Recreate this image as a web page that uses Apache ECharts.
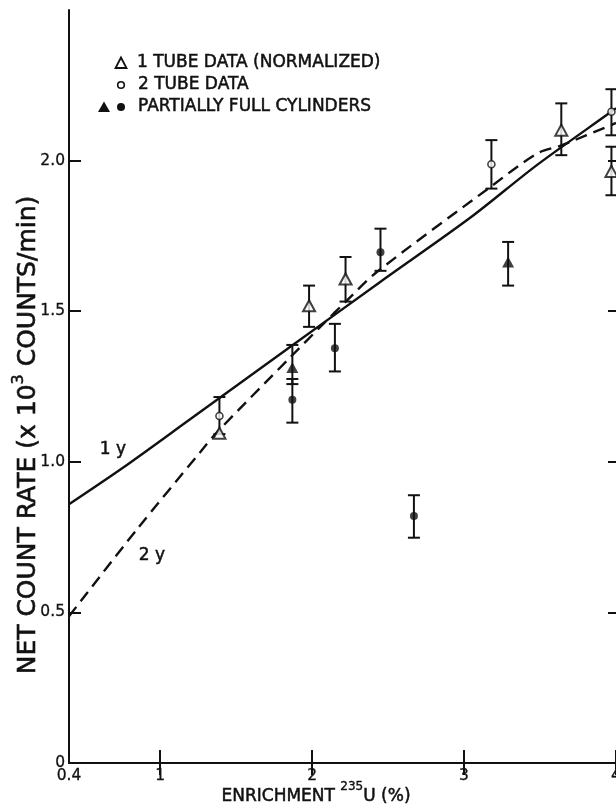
<!DOCTYPE html>
<html>
<head>
<meta charset="utf-8">
<style>html,body{margin:0;padding:0;background:#fff}#c{width:616px;height:810px}</style>
<script src="https://cdn.jsdelivr.net/npm/echarts@6/dist/echarts.min.js"></script>
</head>
<body>
<div id="c"></div>
<script>
// ---- data ----
const xTickLabels = [0.4, 1, 2, 3, 4];
const yTickLabels = [0, 0.5, 1.0, 1.5, 2.0];

// 1 tube data (normalized) - open triangles
const tube1X  = [1.39, 1.98, 2.22, 3.64, 3.97];
const tube1Y  = [1.095, 1.518, 1.607, 2.101, 1.964];
const tube1Lo = [null, 1.448, 1.532, 2.018, 1.885];
const tube1Hi = [null, 1.585, 1.680, 2.190, 2.046];

// 2 tube data - open circles
const tube2X  = [1.39, 3.18, 3.97];
const tube2Y  = [1.152, 1.988, 2.162];
const tube2Lo = [1.092, 1.907, 2.084];
const tube2Hi = [1.215, 2.068, 2.237];

// partially full cylinders - filled triangles
const partTriX  = [1.87, 3.29];
const partTriY  = [1.313, 1.663];
const partTriLo = [1.258, 1.585];
const partTriHi = [1.388, 1.730];

// partially full cylinders - filled circles
const partCirX  = [1.87, 2.15, 2.45, 2.67];
const partCirY  = [1.206, 1.377, 1.696, 0.820];
const partCirLo = [1.130, 1.300, 1.634, 0.748];
const partCirHi = [1.275, 1.458, 1.774, 0.889];

// fitted curves
const curve1yX = [0.4, 0.757, 1.197, 1.866, 2.448, 3.04, 3.479, 3.968, 4.0];
const curve1yY = [0.859, 0.981, 1.141, 1.385, 1.597, 1.81, 1.985, 2.162, 2.174];
const curve2yX = [0.4, 0.846, 1.262, 1.372, 1.866, 2.074, 2.228, 2.426, 3.172, 3.479, 3.644, 4.0];
const curve2yY = [0.487, 0.775, 1.031, 1.097, 1.352, 1.458, 1.535, 1.630, 1.912, 2.023, 2.051, 2.125];

// ---- build ----
const ink = '#111';
const font = 'DejaVu Sans';
const zip = (xs, ys) => xs.map((x, i) => [x, ys[i]]);
const errRows = (xs, lo, hi) => xs.map((x, i) => [x, lo[i], hi[i]]).filter(r => r[1] != null);

const errorRows = [].concat(
  errRows(tube1X, tube1Lo, tube1Hi),
  errRows(tube2X, tube2Lo, tube2Hi),
  errRows(partTriX, partTriLo, partTriHi),
  errRows(partCirX, partCirLo, partCirHi)
);

function renderErr(params, api) {
  const x = api.value(0), lo = api.value(1), hi = api.value(2);
  const a = api.coord([x, lo]), b = api.coord([x, hi]);
  const w = 6;
  const st = { stroke: ink, lineWidth: 2 };
  return { type: 'group', children: [
    { type: 'line', shape: { x1: a[0], y1: a[1], x2: b[0], y2: b[1] }, style: st },
    { type: 'line', shape: { x1: a[0] - w, y1: a[1], x2: a[0] + w, y2: a[1] }, style: st },
    { type: 'line', shape: { x1: b[0] - w, y1: b[1], x2: b[0] + w, y2: b[1] }, style: st }
  ]};
}

const chart = echarts.init(document.getElementById('c'), null, { renderer: 'canvas' });
const axisLine = { show: true, lineStyle: { color: ink, width: 2 } };
const lbl = { color: ink, fontFamily: font, fontSize: 15.5, textBorderColor: ink, textBorderWidth: 0.3 };
const heavy = { stroke: ink, lineWidth: 0.5 };

chart.setOption({
  backgroundColor: '#fff',
  animation: false,
  grid: { left: 69, right: 0, top: 10, bottom: 47, containLabel: false, outerBoundsMode: 'none' },
  xAxis: [
    { type: 'value', min: 0.4, max: 4, position: 'bottom',
      axisLine, splitLine: { show: false },
      axisTick: { show: true, inside: true, length: 13, lineStyle: { color: ink, width: 2 }, customValues: [1, 2, 3, 4] },
      axisLabel: Object.assign({ margin: 5, customValues: xTickLabels, formatter: v => String(v) }, lbl) },
    { type: 'value', min: 0.4, max: 4, position: 'top',
      axisLine, splitLine: { show: false },
      axisTick: { show: true, inside: true, length: 12, lineStyle: { color: ink, width: 2 }, customValues: [1, 2, 3, 4] },
      axisLabel: { show: false } }
  ],
  yAxis: [
    { type: 'value', min: 0, max: 2.5, position: 'left',
      axisLine, splitLine: { show: false },
      axisTick: { show: true, inside: true, length: 12, lineStyle: { color: ink, width: 2 }, customValues: yTickLabels },
      axisLabel: Object.assign({ margin: 4, customValues: yTickLabels, formatter: v => v === 0 ? '0' : v.toFixed(1) }, lbl) },
    { type: 'value', min: 0, max: 2.5, position: 'right',
      axisLine: { show: false }, splitLine: { show: false },
      axisTick: { show: true, inside: true, length: 8, lineStyle: { color: ink, width: 2 }, customValues: [0.5, 1.0, 1.5, 2.0] },
      axisLabel: { show: false } }
  ],
  series: [
    { name: '1y', type: 'line', data: zip(curve1yX, curve1yY), smooth: 0.3, showSymbol: false,
      lineStyle: { color: ink, width: 2.4 }, z: 2 },
    { name: '2y', type: 'line', data: zip(curve2yX, curve2yY), smooth: 0.3, showSymbol: false,
      lineStyle: { color: ink, width: 2.4, type: [12, 7] }, z: 2 },
    { name: 'error', type: 'custom', renderItem: renderErr, data: errorRows, z: 3,
      encode: { x: 0, y: [1, 2] } },
    { name: '1 TUBE DATA (NORMALIZED)', type: 'scatter', data: zip(tube1X, tube1Y), symbol: 'triangle', symbolSize: [12, 11],
      itemStyle: { color: '#fff', borderColor: ink, borderWidth: 2 }, z: 4 },
    { name: '2 TUBE DATA', type: 'scatter', data: zip(tube2X, tube2Y), symbol: 'circle', symbolSize: 7,
      itemStyle: { color: '#fff', borderColor: ink, borderWidth: 1.6 }, z: 4 },
    { name: 'PARTIALLY FULL CYLINDERS (tri)', type: 'scatter', data: zip(partTriX, partTriY), symbol: 'triangle', symbolSize: [12, 11],
      itemStyle: { color: ink }, z: 4 },
    { name: 'PARTIALLY FULL CYLINDERS (circ)', type: 'scatter', data: zip(partCirX, partCirY), symbol: 'circle', symbolSize: 8,
      itemStyle: { color: ink }, z: 4 }
  ],
  graphic: [
    { type: 'polygon', shape: { points: [[121, 57.5], [115.5, 68], [126.5, 68]] }, style: { fill: '#fff', stroke: ink, lineWidth: 1.8 } },
    { type: 'circle', shape: { cx: 121, cy: 85, r: 3.3 }, style: { fill: '#fff', stroke: ink, lineWidth: 1.6 } },
    { type: 'polygon', shape: { points: [[104, 101.5], [98, 112], [110, 112]] }, style: { fill: ink } },
    { type: 'circle', shape: { cx: 121, cy: 107, r: 4 }, style: { fill: ink } },
    { type: 'text', x: 137, y: 63, style: Object.assign({ text: '1 TUBE DATA (NORMALIZED)', fill: ink, font: '17px "DejaVu Sans"', verticalAlign: 'middle' }, heavy) },
    { type: 'text', x: 138, y: 85, style: Object.assign({ text: '2 TUBE DATA', fill: ink, font: '17px "DejaVu Sans"', verticalAlign: 'middle' }, heavy) },
    { type: 'text', x: 138, y: 107, style: Object.assign({ text: 'PARTIALLY FULL CYLINDERS', fill: ink, font: '17px "DejaVu Sans"', verticalAlign: 'middle' }, heavy) },
    { type: 'text', x: 113, y: 450, style: Object.assign({ text: '1 y', fill: ink, font: '17px "DejaVu Sans"', align: 'center', verticalAlign: 'middle' }, heavy) },
    { type: 'text', x: 152, y: 556, style: Object.assign({ text: '2 y', fill: ink, font: '17px "DejaVu Sans"', align: 'center', verticalAlign: 'middle' }, heavy) },
    { type: 'text', x: 316, y: 793, style: {
        text: '{a|ENRICHMENT }{s|235}{a|U (%)}', align: 'center', verticalAlign: 'middle',
        rich: { a: { fontFamily: font, fontSize: 17, fill: ink, lineHeight: 24, verticalAlign: 'bottom', stroke: ink, lineWidth: 0.5 },
                s: { fontFamily: font, fontSize: 12, fill: ink, lineHeight: 24, verticalAlign: 'top', stroke: ink, lineWidth: 0.4 } } } },
    { type: 'text', x: 26, y: 435, rotation: Math.PI / 2, style: {
        text: '{a|NET COUNT RATE (x 10}{s|3}{a| COUNTS/min)}', align: 'center', verticalAlign: 'middle',
        rich: { a: { fontFamily: font, fontSize: 25, fill: ink, lineHeight: 30, verticalAlign: 'bottom', stroke: ink, lineWidth: 0.6 },
                s: { fontFamily: font, fontSize: 16, fill: ink, lineHeight: 30, verticalAlign: 'top', stroke: ink, lineWidth: 0.5 } } } }
  ]
});
</script>
</body>
</html>
